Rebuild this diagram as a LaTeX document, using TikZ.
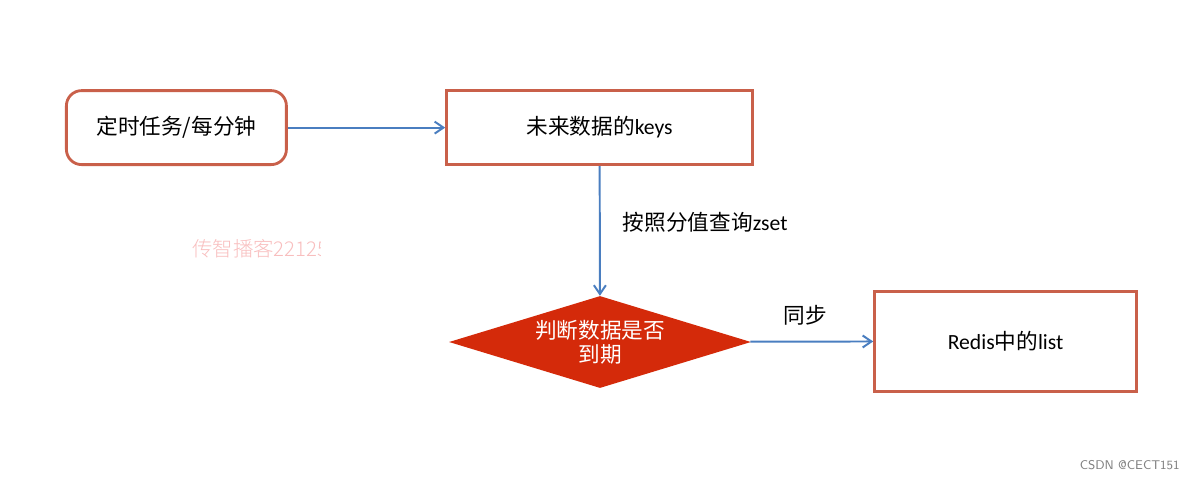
\documentclass[tikz,border=0pt]{standalone}
\usepackage{fontspec}
\setmainfont{Carlito}
\newfontfamily\cjk{Noto Sans CJK SC}
\newfontfamily\cjklight{Noto Sans CJK SC Light}
\usepackage{tikz}
\usetikzlibrary{arrows.meta, shapes.geometric}
\definecolor{boxborder}{HTML}{C9604A}
\definecolor{flowblue}{HTML}{4A7EC0}
\definecolor{judgered}{HTML}{D42A0A}
\definecolor{markpink}{HTML}{F8BEBE}

\begin{document}
\begin{tikzpicture}[
    >={Straight Barb[length=2.2mm, width=3mm]},
    every node/.style={font=\fontsize{15.4}{19}\selectfont},
    taskbox/.style={draw=boxborder, line width=2pt, rounded corners=0.38cm,
      minimum width=5.5cm, minimum height=1.85cm},
    plainbox/.style={draw=boxborder, line width=2pt, minimum width=7.65cm, minimum height=1.85cm},
    judge/.style={diamond, fill=judgered, text=white, aspect=3.3, inner sep=0pt,
      minimum width=7.55cm, minimum height=2.3cm, align=center},
    flow/.style={->, draw=flowblue, line width=1.4pt}
  ]
  \useasboundingbox (0,0) rectangle (29.875,-12.025);
  % --- boxes ---
  \node[taskbox] (timer) at (4.41,-3.19) {{\cjk 定时任务/每分钟}};
  \node[plainbox] (future) at (14.99,-3.19) {{\cjk 未来数据的}keys};
  \node[judge] (expired) at (15.0,-8.55) {{\cjk 判断数据是否}\\[-2pt]{\cjk 到期}};
  \node[plainbox, minimum width=6.55cm, minimum height=2.5cm] (redis) at (25.14,-8.53)
    {Redis{\cjk 中的}list};
  % --- arrows ---
  \draw[flow] (timer) -- (future);
  \draw[flow] (future) -- (expired);
  \draw[flow] (expired) -- (redis);
  \node[anchor=west] (query) at (15.45,-5.55) {{\cjk 按照分值查询}zset};
  \node (sync) at (20.13,-7.87) {\cjk 同步};
  % --- watermarks ---
  \begin{scope}
    \clip (4,-5) rectangle (8.0,-7);
    \node[anchor=west, text=markpink, inner sep=0pt, font=\fontsize{14.5}{17}\selectfont]
      (mark) at (4.8,-6.22) {\cjklight 传智播客22125};
  \end{scope}
  \node[anchor=east, text=gray, inner sep=0pt, font=\sffamily\fontsize{9}{11}\selectfont]
    (csdn) at (29.5,-11.62) {CSDN @CECT151};
\end{tikzpicture}
\end{document}
